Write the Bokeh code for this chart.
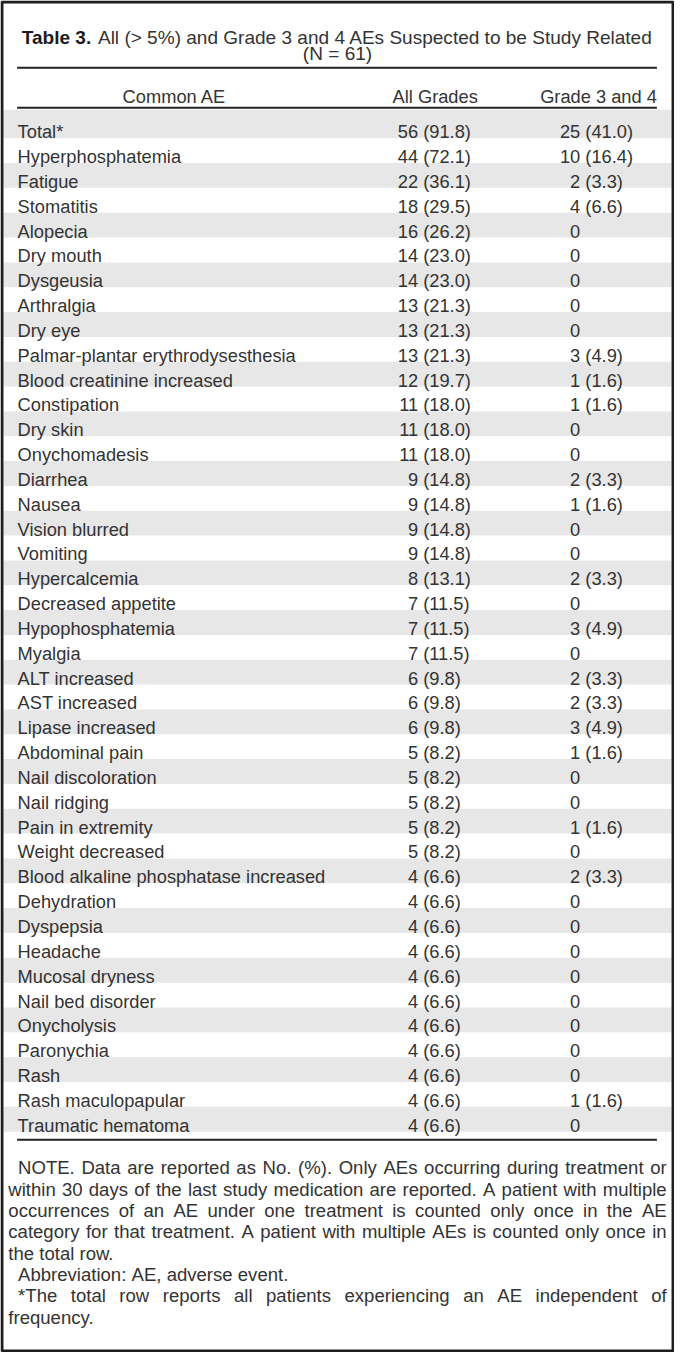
from bokeh.plotting import figure
from bokeh.models import ColumnDataSource, Range1d
from bokeh.core.properties import value
from bokeh.embed import file_html
from bokeh.resources import INLINE

# ---------------- data ----------------
title_bold = "Table 3."
title_rest = "All (> 5%) and Grade 3 and 4 AEs Suspected to be Study Related"
title_line2 = "(N = 61)"
col_headers = ["Common AE", "All Grades", "Grade 3 and 4"]

ae_names = [
    "Total*", "Hyperphosphatemia", "Fatigue", "Stomatitis", "Alopecia",
    "Dry mouth", "Dysgeusia", "Arthralgia", "Dry eye",
    "Palmar-plantar erythrodysesthesia", "Blood creatinine increased",
    "Constipation", "Dry skin", "Onychomadesis", "Diarrhea", "Nausea",
    "Vision blurred", "Vomiting", "Hypercalcemia", "Decreased appetite",
    "Hypophosphatemia", "Myalgia", "ALT increased", "AST increased",
    "Lipase increased", "Abdominal pain", "Nail discoloration",
    "Nail ridging", "Pain in extremity", "Weight decreased",
    "Blood alkaline phosphatase increased", "Dehydration", "Dyspepsia",
    "Headache", "Mucosal dryness", "Nail bed disorder", "Onycholysis",
    "Paronychia", "Rash", "Rash maculopapular", "Traumatic hematoma",
]
all_counts = [56, 44, 22, 18, 16, 14, 14, 13, 13, 13, 12, 11, 11, 11, 9, 9, 9, 9,
              8, 7, 7, 7, 6, 6, 6, 5, 5, 5, 5, 5, 4, 4, 4, 4, 4, 4, 4, 4, 4, 4, 4]
all_pcts = ["91.8", "72.1", "36.1", "29.5", "26.2", "23.0", "23.0", "21.3", "21.3",
            "21.3", "19.7", "18.0", "18.0", "18.0", "14.8", "14.8", "14.8", "14.8",
            "13.1", "11.5", "11.5", "11.5", "9.8", "9.8", "9.8", "8.2", "8.2", "8.2",
            "8.2", "8.2", "6.6", "6.6", "6.6", "6.6", "6.6", "6.6", "6.6", "6.6",
            "6.6", "6.6", "6.6"]
g34_counts = [25, 10, 2, 4, 0, 0, 0, 0, 0, 3, 1, 1, 0, 0, 2, 1, 0, 0, 2, 0, 3, 0,
              2, 2, 3, 1, 0, 0, 1, 0, 2, 0, 0, 0, 0, 0, 0, 0, 0, 1, 0]
g34_pcts = ["41.0", "16.4", "3.3", "6.6", None, None, None, None, None, "4.9",
            "1.6", "1.6", None, None, "3.3", "1.6", None, None, "3.3", None, "4.9",
            None, "3.3", "3.3", "4.9", "1.6", None, None, "1.6", None, "3.3", None,
            None, None, None, None, None, None, None, "1.6", None]

# footer lines: (text, first-line indent, justified)
footer_lines = [
    ("NOTE. Data are reported as No. (%). Only AEs occurring during treatment or", True, True),
    ("within 30 days of the last study medication are reported. A patient with multiple", False, True),
    ("occurrences of an AE under one treatment is counted only once in the AE", False, True),
    ("category for that treatment. A patient with multiple AEs is counted only once in", False, True),
    ("the total row.", False, False),
    ("Abbreviation: AE, adverse event.", True, False),
    ("*The total row reports all patients experiencing an AE independent of", True, True),
    ("frequency.", False, False),
]

# ---------------- layout (reference pixel space) ----------------
W_REF, H_REF = 690, 1368
PW, PH = 674, 1352
S = PW / W_REF
FONT = "Liberation Sans"
BODY, NUM, FOOT, TITLE = 18.7, 18.7, 19.0, 19.5
TXT = "#333333"
RULE = "#232323"
SHADE = "#e7e7e7"

def fs(size):
    return value(f"{size * S:.2f}px")

AW = {' ': 278, '!': 278, '"': 355, '#': 556, '$': 556, '%': 889, '&': 667, "'": 191,
      '(': 333, ')': 333, '*': 389, '+': 584, ',': 278, '-': 333, '.': 278, '/': 278,
      ':': 278, ';': 278, '<': 584, '=': 584, '>': 584, '?': 556, '@': 1015,
      'A': 667, 'B': 667, 'C': 722, 'D': 722, 'E': 667, 'F': 611, 'G': 778, 'H': 722,
      'I': 278, 'J': 500, 'K': 667, 'L': 556, 'M': 833, 'N': 722, 'O': 778, 'P': 667,
      'Q': 778, 'R': 722, 'S': 667, 'T': 611, 'U': 722, 'V': 667, 'W': 944, 'X': 667,
      'Y': 667, 'Z': 611, 'a': 556, 'b': 556, 'c': 500, 'd': 556, 'e': 556, 'f': 278,
      'g': 556, 'h': 556, 'i': 222, 'j': 222, 'k': 500, 'l': 222, 'm': 833, 'n': 556,
      'o': 556, 'p': 556, 'q': 556, 'r': 333, 's': 500, 't': 278, 'u': 556, 'v': 500,
      'w': 722, 'x': 500, 'y': 500, 'z': 500}
for d in "0123456789":
    AW[d] = 556
BW = {'T': 611, 'a': 556, 'b': 611, 'l': 278, 'e': 556, ' ': 278, '3': 556, '.': 278}

def tw(s, size, table=AW):
    return sum(table.get(c, 556) for c in s) * size / 1000.0

p = figure(width=PW, height=PH, x_range=Range1d(0, W_REF), y_range=Range1d(H_REF, 0),
           output_backend="svg", toolbar_location=None, min_border=0,
           x_axis_location=None, y_axis_location=None)
p.grid.visible = False
p.outline_line_color = None
p.background_fill_color = "white"
p.border_fill_color = "white"

# row geometry
ROW0, ROWH = 114.2, 25.13
n = len(ae_names)
row_tops = [ROW0 + i * ROWH for i in range(n)]

# shaded rows
sl, sr, st, sb = [], [], [], []
for i in range(0, n, 2):
    sl.append(3); sr.append(687)
    st.append(110.5 if i == 0 else row_tops[i]); sb.append(row_tops[i] + ROWH)
p.quad(left=sl, right=sr, top=st, bottom=sb, fill_color=SHADE, line_color=None)

# rules
p.segment(x0=[17, 17, 17], x1=[672, 672, 672], y0=[68, 108.6, 1152.7],
          y1=[68, 108.6, 1152.7], line_color=RULE, line_width=2)

# frame
p.quad(left=[1.5], right=[688.5], top=[1.5], bottom=[1366.5], fill_color=None,
       line_color="#1e1e1e", line_width=3)

# title
bw = tw(title_bold + " ", TITLE, BW)
rw = tw(title_rest, TITLE)
tx0 = W_REF / 2 - (bw + rw) / 2
T1, T2 = 37.0, 54.0
p.text(x=[tx0], y=[T1], text=[title_bold], text_font=value(FONT), text_font_size=fs(TITLE),
       text_font_style="bold", text_color="#1a1a1a", text_align="left", text_baseline="alphabetic")
p.text(x=[tx0 + bw, W_REF / 2], y=[T1, T2], text=[title_rest, title_line2],
       text_font=value(FONT), text_font_size=fs(TITLE), text_color=TXT,
       text_align=["left", "center"], text_baseline="alphabetic")

# column headers
p.text(x=[178, 445, 672], y=[97.5] * 3, text=col_headers, text_font=value(FONT),
       text_font_size=fs(BODY), text_color=TXT, text_align=["center", "center", "right"],
       text_baseline="alphabetic")

# body
sp = tw(" ", NUM)
C2, C3 = 427.5, 593.5
base = [t + 18.6 for t in row_tops]
src = ColumnDataSource(dict(
    y=base, name=ae_names,
    c2=[str(c) for c in all_counts], p2=[f"({v})" for v in all_pcts],
    c3=[str(c) for c in g34_counts], p3=[f"({v})" if v else "" for v in g34_pcts],
))
common = dict(source=src, text_font=value(FONT), text_color=TXT, text_baseline="alphabetic")
p.text(x=17.5, y="y", text="name", text_align="left", text_font_size=fs(BODY), **common)
p.text(x=C2, y="y", text="c2", text_align="right", text_font_size=fs(NUM), **common)
p.text(x=C2 + sp, y="y", text="p2", text_align="left", text_font_size=fs(NUM), **common)
p.text(x=C3, y="y", text="c3", text_align="right", text_font_size=fs(NUM), **common)
p.text(x=C3 + sp, y="y", text="p3", text_align="left", text_font_size=fs(NUM), **common)

# footer (justified word placement)
fx, fy, ft = [], [], []
FB0, FLH = 1181.0, 21.6
for k, (line, indent, just) in enumerate(footer_lines):
    words = line.split(" ")
    x0 = 18.0 if indent else 8.0
    x1 = 682.0
    ws = [tw(w, FOOT) for w in words]
    if just and len(words) > 1:
        gap = (x1 - x0 - sum(ws)) / (len(words) - 1)
    else:
        gap = tw(" ", FOOT)
    x = x0
    for w, wd in zip(words, ws):
        fx.append(x); fy.append(FB0 + k * FLH); ft.append(w)
        x += wd + gap
p.text(x=fx, y=fy, text=ft, text_font=value(FONT), text_font_size=fs(FOOT), text_color=TXT,
       text_align="left", text_baseline="alphabetic")

open("out.html", "w").write(file_html(p, INLINE))
